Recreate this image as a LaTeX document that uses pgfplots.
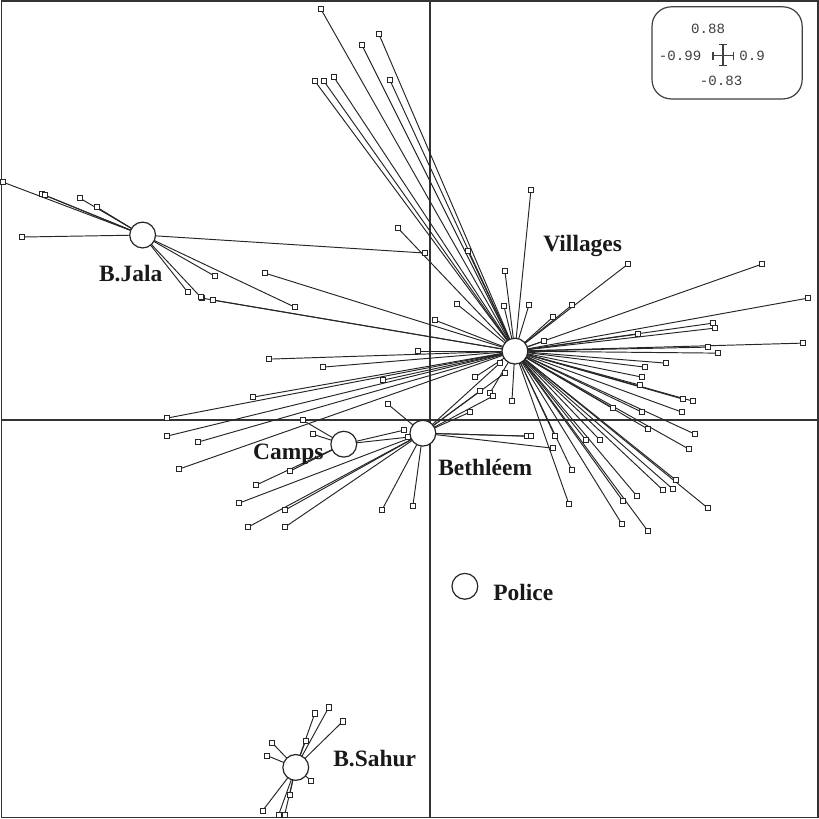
\documentclass[border=0pt]{standalone}
\usepackage{fontspec}
\setmainfont{Liberation Serif}
\newfontfamily\monofont{Liberation Mono}
\usepackage{pgfplots}
\usepackage{pgfplotstable}
\pgfplotsset{compat=1.18}

% group points (screen-like units, y grows downward)
\pgfplotstableread{
x y
321 10
362 46
379 35
315 82
324 82
334 78
390 81
398 229
457 305
468 252
265 274
202 299
213 301
531 191
505 272
504 307
529 306
553 318
572 306
628 265
762 265
808 299
713 324
715 329
803 344
708 348
718 354
638 335
544 342
666 364
645 368
642 378
640 386
683 400
693 402
682 413
642 413
695 435
689 450
648 430
613 409
600 441
586 441
572 471
569 505
623 502
637 497
663 491
673 490
676 481
708 509
622 525
648 532
555 437
512 402
490 394
475 378
418 352
435 321
383 381
323 368
269 360
253 398
167 419
167 437
198 443
179 470
}\villages

\pgfplotstableread{
x y
527 437
531 437
553 449
413 507
382 511
285 528
248 528
239 504
285 511
388 405
470 413
480 392
493 397
500 364
505 374
}\bethleem

\pgfplotstableread{
x y
303 421
313 435
256 486
290 472
408 438
404 431
}\camps

\pgfplotstableread{
x y
3 183
42 195
45 196
80 199
97 208
22 238
215 277
295 308
188 293
201 298
425 254
}\bjala

\pgfplotstableread{
x y
329 708
315 714
343 722
272 743
267 756
311 781
263 811
279 815
285 815
290 795
306 741
}\bsahur

\pgfplotstableread{
x y
143 236
515 352
344 445
423 434
465 587
296 768
}\centres

\begin{document}
\begin{tikzpicture}
\begin{axis}[
    scale only axis,
    width=12cm, height=12cm,
    xmin=2, xmax=818, ymin=2, ymax=818,
    y dir=reverse,
    xtick=\empty, ytick=\empty,
    axis line style={black!80, line width=0.7pt},
    clip=false,
    star/.style={black!85, line width=0.4pt},
    pts/.style={only marks, mark=square*, mark size=1.05pt,
        mark options={fill=white, draw=black!85, line width=0.35pt}},
]
    % axes through the origin
    \draw[black!80, line width=0.6pt] (axis cs:430,2) -- (axis cs:430,818);
    \draw[black!80, line width=0.6pt] (axis cs:2,421) -- (axis cs:818,421);

    % stars: each point joined to its group centre
    \addplot[star, quiver={u=515-\thisrow{x}, v=352-\thisrow{y}}] table {\villages};
    \addplot[star, quiver={u=423-\thisrow{x}, v=434-\thisrow{y}}] table {\bethleem};
    \addplot[star, quiver={u=344-\thisrow{x}, v=445-\thisrow{y}}] table {\camps};
    \addplot[star, quiver={u=143-\thisrow{x}, v=236-\thisrow{y}}] table {\bjala};
    \addplot[star, quiver={u=296-\thisrow{x}, v=768-\thisrow{y}}] table {\bsahur};

    % individual points
    \addplot[pts] table {\villages};
    \addplot[pts] table {\bethleem};
    \addplot[pts] table {\camps};
    \addplot[pts] table {\bjala};
    \addplot[pts] table {\bsahur};

    % labels
    \begin{scope}[font=\fontsize{9.8}{11}\selectfont\bfseries, text=black!90]
    \node[anchor=base west, inner sep=0pt] at (axis cs:99,282) {B.Jala};
    \node[anchor=base west, inner sep=0pt] at (axis cs:543,252) {Villages};
    \node[anchor=base west, inner sep=0pt] at (axis cs:253,460) {Camps};
    \node[anchor=base west, inner sep=0pt] at (axis cs:438,476) {Bethléem};
    \node[anchor=base west, inner sep=0pt] at (axis cs:493,601) {Police};
    \node[anchor=base west, inner sep=0pt] at (axis cs:333,767) {B.Sahur};
    \end{scope}

    % group centres
    \addplot[only marks, mark=*, mark size=5.4pt,
        mark options={fill=white, draw=black!85, line width=0.5pt}] table {\centres};

    % scale box
    \draw[black!75, line width=0.5pt, rounded corners=8pt, fill=white]
        (axis cs:652,8) rectangle (axis cs:802,100);
    \begin{scope}[font=\monofont\fontsize{5.9}{7}\selectfont, text=black!75]
    \node at (axis cs:708,30) {0.88};
    \node at (axis cs:680,57) {-0.99};
    \node at (axis cs:752,57) {0.9};
    \node at (axis cs:721,82) {-0.83};
    \end{scope}
    \draw[black!75, line width=0.5pt] (axis cs:713,57) -- (axis cs:733,57)
        (axis cs:713,53) -- (axis cs:713,61) (axis cs:733,53) -- (axis cs:733,61);
    \draw[black!75, line width=0.5pt] (axis cs:723,46) -- (axis cs:723,67)
        (axis cs:719,46) -- (axis cs:727,46) (axis cs:719,67) -- (axis cs:727,67);
\end{axis}
\end{tikzpicture}
\end{document}
